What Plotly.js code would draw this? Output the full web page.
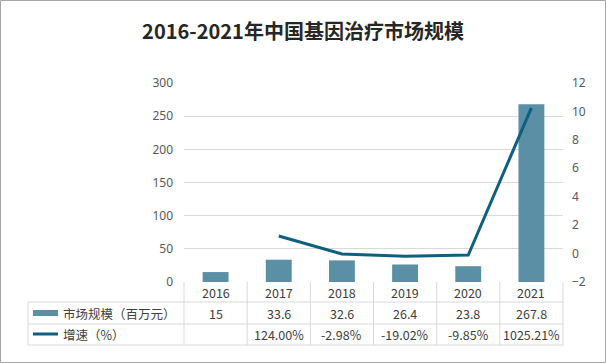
<!DOCTYPE html>
<html><head><meta charset="utf-8">
<script src="https://cdn.plot.ly/plotly-3.0.1.min.js"></script>
<style>html,body{margin:0;padding:0;background:#fff}#c{width:606px;height:363px}</style>
</head><body><div id="c"></div>
<script>
const years = ['2016','2017','2018','2019','2020','2021'];
const marketSize = [15, 33.6, 32.6, 26.4, 23.8, 267.8];
const growthPct = [null, 124.00, -2.98, -19.02, -9.85, 1025.21];
const sizeLabels = ['15','33.6','32.6','26.4','23.8','267.8'];
const growthLabels = ['','124.00%','-2.98%','-19.02%','-9.85%','1025.21%'];
const seriesNames = ['市场规模（百万元）','增速（%）'];
const titleText = '2016-2021年中国基因治疗市场规模';

const W=606,H=363,L=184,R=43,T=83,B=81;
const pw=W-L-R, ph=H-T-B;
const px2x = p => (p-L)/pw;
const py2y = p => (H-B-p)/ph;
const barColor='#5B8FA6', lineColor='#0F5F7E', gridColor='#D9D9D9', txt='#404040';

const idx = years.map((_,i)=>i);
const growthFrac = growthPct.map(v => v==null?null:v/100);

const traces = [
 {type:'bar', x:idx, y:marketSize, marker:{color:barColor}, name:seriesNames[0], hoverinfo:'none'},
 {type:'scatter', mode:'lines', x:idx, y:growthFrac, yaxis:'y2', line:{color:lineColor,width:3}, name:seriesNames[1], connectgaps:false, hoverinfo:'none'}
];

const shapes=[], ann=[];
const yHead=py2y(302), yR1=py2y(324), yR2=py2y(345), yTop=py2y(282);
const xLeft=px2x(28);
[302,324,345].forEach(p=>{
  shapes.push({type:'line',xref:'paper',yref:'paper',x0:xLeft,x1:1,y0:py2y(p),y1:py2y(p),line:{color:gridColor,width:1}});
});
shapes.push({type:'line',xref:'paper',yref:'paper',x0:xLeft,x1:xLeft,y0:yHead,y1:yR2,line:{color:gridColor,width:1}});
for(let i=0;i<=years.length;i++){
  const xp=i/years.length;
  shapes.push({type:'line',xref:'paper',yref:'paper',x0:xp,x1:xp,y0:yTop,y1:yR2,line:{color:gridColor,width:1}});
}
shapes.push({type:'rect',xref:'paper',yref:'paper',x0:px2x(33),x1:px2x(58),y0:py2y(316),y1:py2y(310),fillcolor:barColor,line:{width:0}});
shapes.push({type:'line',xref:'paper',yref:'paper',x0:px2x(33),x1:px2x(58),y0:py2y(334),y1:py2y(334),line:{color:lineColor,width:3}});
shapes.push({type:'rect',xref:'paper',yref:'paper',x0:px2x(0.5),x1:px2x(605.5),y0:py2y(0.5),y1:py2y(362.5),line:{color:'#A6A6A6',width:1}});

const f={family:'"Noto Sans CJK SC", "Noto Sans", sans-serif',size:12.5,color:txt};
years.forEach((yr,i)=>{
  ann.push({xref:'x',yref:'paper',x:i,y:py2y(292),text:yr,showarrow:false,font:f,yanchor:'middle'});
  ann.push({xref:'x',yref:'paper',x:i,y:py2y(313),text:sizeLabels[i],showarrow:false,font:f,yanchor:'middle'});
  if(growthLabels[i]) ann.push({xref:'x',yref:'paper',x:i,y:py2y(334),text:growthLabels[i],showarrow:false,font:f,yanchor:'middle'});
});
ann.push({xref:'paper',yref:'paper',x:px2x(61),y:py2y(313),text:seriesNames[0],showarrow:false,font:f,xanchor:'left',yanchor:'middle'});
ann.push({xref:'paper',yref:'paper',x:px2x(61),y:py2y(334),text:seriesNames[1],showarrow:false,font:f,xanchor:'left',yanchor:'middle'});

const layout={
 width:W,height:H,margin:{l:L,r:R,t:T,b:B},paper_bgcolor:'#fff',plot_bgcolor:'#fff',
 showlegend:false,bargap:0.59,
 title:{text:'<b>'+titleText+'</b>',x:0.5,xref:'container',xanchor:'center',y:1-32/H,yref:'container',yanchor:'middle',font:{family:'"Noto Sans CJK SC", sans-serif',size:20,color:'#262626'}},
 xaxis:{range:[-0.5,5.5],showticklabels:false,ticks:'',showgrid:false,showline:false,zeroline:false,fixedrange:true},
 yaxis:{range:[0,300],dtick:50,showgrid:true,gridcolor:gridColor,gridwidth:1,zeroline:false,showline:false,ticks:'',ticklabelstandoff:10,tickfont:{family:'"Noto Sans", sans-serif',size:12,color:'#595959'}},
 yaxis2:{overlaying:'y',side:'right',range:[-2,12],dtick:2,showgrid:false,zeroline:false,showline:false,ticks:'',ticklabelstandoff:8,tickfont:{family:'"Noto Sans", sans-serif',size:12,color:'#595959'}},
 shapes:shapes,annotations:ann
};
Plotly.newPlot('c',traces,layout,{staticPlot:true,displayModeBar:false});
</script></body></html>
